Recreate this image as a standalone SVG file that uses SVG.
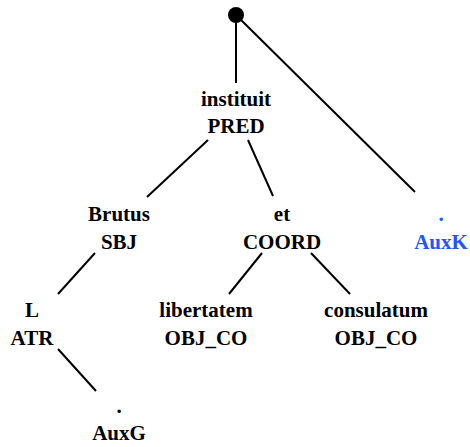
<svg xmlns="http://www.w3.org/2000/svg" width="470" height="447" viewBox="0 0 470 447">
<style>
text{font-family:"Liberation Serif","Times New Roman",serif;font-weight:bold;font-size:21px;text-anchor:middle;fill:#000}
.blue{fill:#2255ff}
.e{stroke:#000;stroke-width:2;fill:none}
</style>
<rect width="470" height="447" fill="#fff"/>
<g id="connectors">
<line class="e" x1="236" y1="15" x2="236" y2="83"/>
<line class="e" x1="236" y1="15" x2="415" y2="192"/>
<line class="e" x1="208" y1="140" x2="147" y2="197"/>
<line class="e" x1="248" y1="140" x2="273" y2="196"/>
<line class="e" x1="95" y1="253" x2="58" y2="294"/>
<line class="e" x1="262" y1="253" x2="229" y2="294"/>
<line class="e" x1="311" y1="253" x2="350" y2="294"/>
<line class="e" x1="58" y1="349" x2="96" y2="391"/>
</g>
<g id="root"><circle cx="236" cy="15" r="8" fill="#000"/></g>
<g id="n-instituit"><text x="236" y="106">instituit</text><text x="236" y="133">PRED</text></g>
<g id="n-brutus"><text x="119" y="221">Brutus</text><text x="119" y="249">SBJ</text></g>
<g id="n-et"><text x="282" y="221">et</text><text x="282" y="249">COORD</text></g>
<g id="n-auxk"><text class="blue" x="441" y="221">.</text><text class="blue" x="441" y="249">AuxK</text></g>
<g id="n-L"><text x="32" y="317">L</text><text x="32" y="345">ATR</text></g>
<g id="n-libertatem"><text x="206" y="317">libertatem</text><text x="206" y="345">OBJ_CO</text></g>
<g id="n-consulatum"><text x="376" y="317">consulatum</text><text x="376" y="345">OBJ_CO</text></g>
<g id="n-auxg"><text x="119" y="413">.</text><text x="119" y="440">AuxG</text></g>
</svg>
